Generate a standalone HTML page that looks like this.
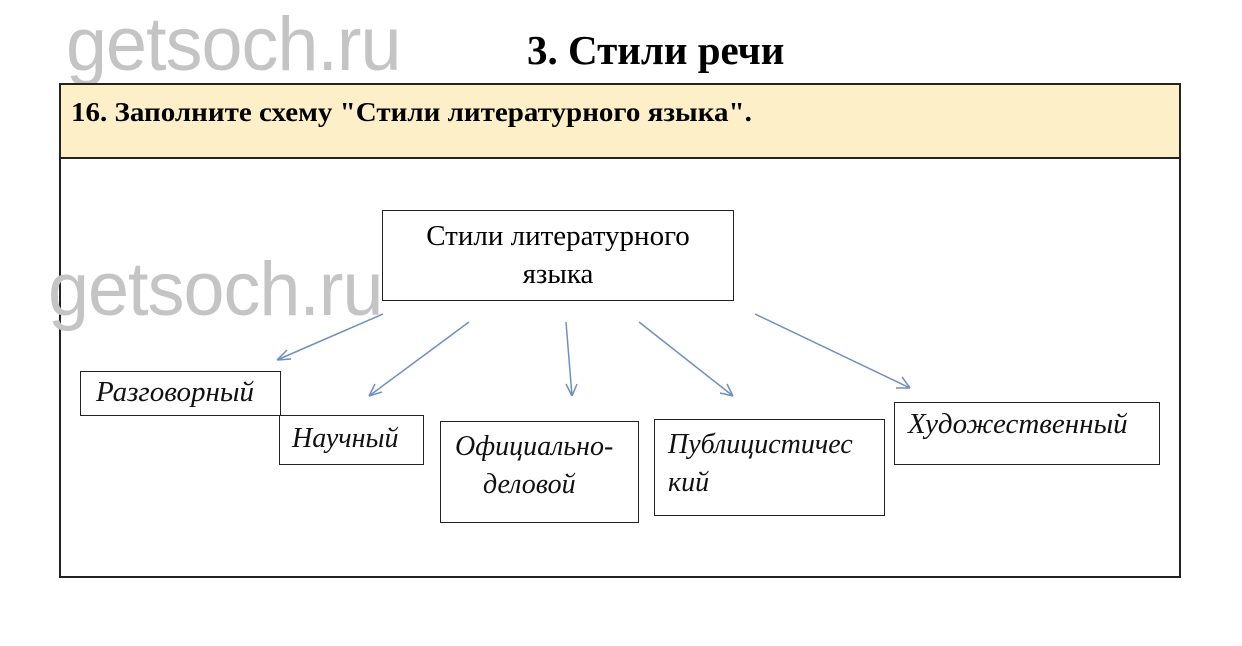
<!DOCTYPE html>
<html><head><meta charset="utf-8"><style>
body{margin:0;width:1242px;height:646px;background:#fff;position:relative;overflow:hidden;font-family:"Liberation Serif",serif}
.a{position:absolute;white-space:nowrap}
.wm{font-family:"Liberation Sans",sans-serif;color:#c4c4c4;font-size:76px;letter-spacing:-1px;transform:scaleX(0.97);transform-origin:left}
.b{position:absolute;border:1.5px solid #222;box-sizing:border-box;background:#fff;white-space:nowrap}
.i{font-style:italic;font-size:28px;color:#111;transform-origin:left}
</style></head><body>
<div class="a wm" style="left:66px;top:1px">getsoch.ru</div>
<div class="a" style="left:527px;top:26px;font-size:41px;font-weight:bold">3. Стили речи</div>
<div class="b" style="left:59px;top:83px;width:1122px;height:495px;border-width:2px"></div>
<div class="a" style="left:61px;top:85px;width:1118px;height:72px;background:#fdf0c8;border-bottom:2px solid #222"></div>
<div class="a" style="left:71px;top:97px;font-size:27px;font-weight:bold;transform:scaleX(1.075);transform-origin:left">16. Заполните схему "Стили литературного языка".</div>
<div class="b" style="left:382px;top:210px;width:352px;height:91px;text-align:center;font-size:29px;line-height:38px;padding-top:6px">Стили литературного<br>языка</div>
<div class="a wm" style="left:48px;top:246px">getsoch.ru</div>
<div class="b i" style="left:80px;top:371px;width:201px;height:45px;padding:4px 0 0 15px;font-size:29px">Разговорный</div>
<div class="b i" style="left:279px;top:415px;width:145px;height:50px;padding:7px 0 0 12px">Научный</div>
<div class="b i" style="left:440px;top:421px;width:199px;height:102px;padding:6px 0 0 14px;line-height:38px">Официально-<br>&nbsp;&nbsp;&nbsp;&nbsp;деловой</div>
<div class="b i" style="left:654px;top:419px;width:231px;height:97px;padding:6px 0 0 13px;line-height:38px">Публицистичес<br>кий</div>
<div class="b i" style="left:894px;top:402px;width:266px;height:63px;padding:5px 0 0 13px;font-size:29px">Художественный</div>
<svg class="a" style="left:0;top:0" width="1242" height="646">
<g stroke="#6f8fbf" stroke-width="1.5" fill="none">
<path d="M383 314L277 360M277 360l14-1M277 360l10-10"/>
<path d="M469 322L369 396M369 396l13-4M369 396l6-12"/>
<path d="M566 322L572 396M572 396l-6-12M572 396l5-12"/>
<path d="M639 322L733 396M733 396l-6-12M733 396l-13-3"/>
<path d="M755 314L910 388M910 388l-8-11M910 388l-14 0"/>
</g></svg>
</body></html>
